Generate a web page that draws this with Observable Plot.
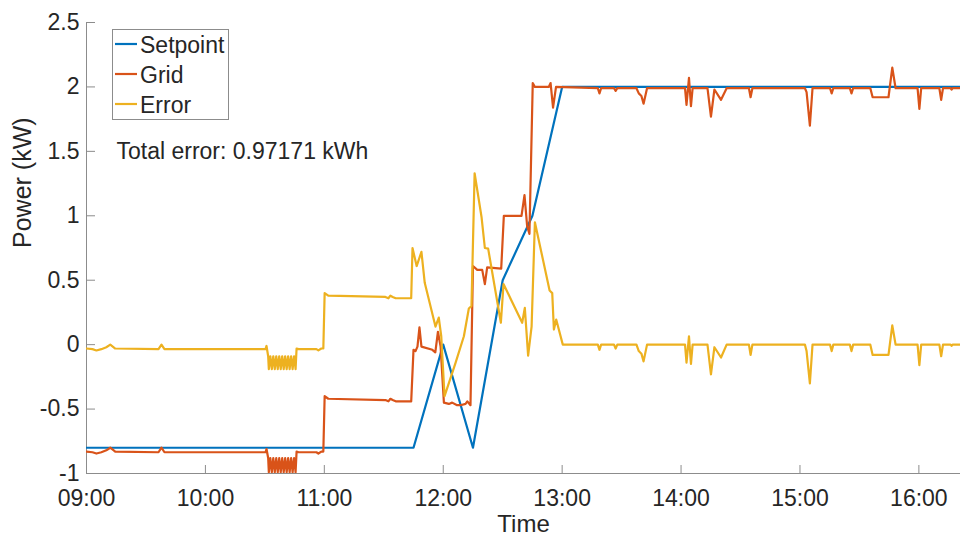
<!DOCTYPE html>
<html>
<head>
<meta charset="utf-8">
<script src="https://cdn.jsdelivr.net/npm/d3@7"></script>
<script src="https://cdn.jsdelivr.net/npm/@observablehq/plot@0.6"></script>
<style>
  body { margin: 0; background: #fff; font-family: "Liberation Sans", Arial, sans-serif; }
  #chart { width: 960px; height: 538px; }
</style>
</head>
<body>
<div id="chart"></div>
<script>
// ---- data ----
const seriesNames = ["Setpoint", "Grid", "Error"];
const seriesColors = ["#0072BD", "#D95319", "#EDB120"];
const totalErrorLabel = "Total error: 0.97171 kWh";

const xTickLabels = ["09:00", "10:00", "11:00", "12:00", "13:00", "14:00", "15:00", "16:00"];
const yTicks = [-1, -0.5, 0, 0.5, 1, 1.5, 2, 2.5];
const xStart = "09:00:00";
const xEnd = "16:21:00";

const setpointTime = ["09:00:00", "11:45:00", "12:00:00", "12:15:00", "12:30:00", "12:45:00", "13:00:00", "16:21:00"];
const setpointValue = [-0.8, -0.8, 0, -0.8, 0.5, 1.0, 2.0, 2.0];

const gridTime = [
  "09:00:00","09:03:00","09:05:00","09:07:30","09:10:00","09:12:00","09:14:30",
  "09:36:20","09:37:50","09:39:20","10:30:20","10:30:50","10:31:40",
  "10:32:00","10:32:45","10:33:30","10:34:15","10:35:00","10:35:45","10:36:30","10:37:15",
  "10:38:00","10:38:45","10:39:30","10:40:15","10:41:00","10:41:45","10:42:30","10:43:15",
  "10:44:00","10:44:45","10:45:30","10:46:00",
  "10:47:00","10:56:00","10:57:00","10:58:30","10:59:30","11:00:10","11:02:00",
  "11:30:50","11:32:20","11:33:20","11:34:30","11:36:00","11:43:50",
  "11:45:00","11:46:00","11:47:00","11:48:00","11:49:00","11:54:30","11:56:00","11:57:20","11:58:40",
  "12:00:20","12:02:50","12:04:30","12:07:00","12:08:45","12:11:15","12:12:10","12:13:45",
  "12:15:00","12:17:10","12:19:40","12:21:00","12:22:10","12:29:15","12:30:35",
  "12:39:30","12:41:00","12:42:20","12:43:30","12:45:10","12:46:15","12:53:15","12:54:10","12:55:25","12:56:55",
  "13:18:00","13:18:50","13:19:40","13:26:10","13:27:00","13:27:50",
  "13:37:30","13:38:40","13:40:00","13:41:05","13:42:50",
  "14:02:00","14:02:45","14:04:00","14:05:00","14:05:50",
  "14:13:20","14:15:05","14:16:50","14:20:10","14:23:00",
  "14:34:15","14:35:05","14:36:00",
  "15:02:30","15:03:20","15:05:00","15:06:20",
  "15:15:10","15:16:00","15:16:50","15:25:10","15:26:00","15:26:50",
  "15:35:30","15:36:40","15:44:40","15:46:35","15:48:15",
  "15:59:20","16:00:15","16:01:10","16:10:20","16:11:15","16:12:10",
  "16:16:00","16:16:30","16:17:00","16:21:00"
];
const gridValue = [
  -0.83,-0.835,-0.845,-0.835,-0.82,-0.80,-0.83,
  -0.835,-0.80,-0.835,-0.835,-0.81,-0.88,
  -0.99,-0.88,-0.99,-0.88,-0.99,-0.88,-0.99,-0.88,
  -0.99,-0.88,-0.99,-0.88,-0.99,-0.88,-0.99,-0.88,
  -0.99,-0.88,-0.99,-0.83,
  -0.835,-0.835,-0.845,-0.83,-0.83,-0.40,-0.42,
  -0.43,-0.44,-0.42,-0.43,-0.44,-0.44,
  -0.04,-0.05,-0.015,0.135,-0.015,-0.04,-0.06,0.10,-0.015,
  -0.45,-0.46,-0.45,-0.47,-0.47,-0.46,-0.44,-0.47,
  0.61,0.58,0.58,0.47,0.60,0.59,1.0,
  1.0,1.16,0.92,0.86,2.03,2.0,2.0,2.03,1.84,2.0,
  1.99,1.95,1.99,1.99,1.97,1.99,
  1.99,1.95,1.93,1.87,1.99,
  1.99,1.86,2.07,1.85,1.99,
  1.99,1.77,1.98,1.90,1.99,
  1.99,1.92,1.99,
  1.99,1.96,1.70,1.99,
  1.99,1.95,1.99,1.99,1.95,1.99,
  1.99,1.92,1.92,2.15,1.99,
  1.99,1.83,1.99,1.99,1.90,1.99,
  1.99,1.98,1.99,1.99
];

const errorTime = [
  "09:00:00","09:03:00","09:05:00","09:07:30","09:10:00","09:12:00","09:14:30",
  "09:36:20","09:37:50","09:39:20","10:30:20","10:30:50","10:31:40",
  "10:32:00","10:32:45","10:33:30","10:34:15","10:35:00","10:35:45","10:36:30","10:37:15",
  "10:38:00","10:38:45","10:39:30","10:40:15","10:41:00","10:41:45","10:42:30","10:43:15",
  "10:44:00","10:44:45","10:45:30","10:46:00",
  "10:47:00","10:56:00","10:57:00","10:58:30","10:59:30","11:00:10","11:02:00",
  "11:30:50","11:32:20","11:33:20","11:34:30","11:36:00","11:43:50",
  "11:44:30","11:46:35","11:49:00","11:50:40","11:56:05","11:57:45","11:59:00",
  "12:00:40","12:06:15","12:10:25","12:12:55","12:14:15","12:15:50","12:19:20","12:21:00","12:22:40",
  "12:29:05","12:30:25","12:39:50","12:41:10","12:42:50","12:44:35","12:46:15",
  "12:53:40","12:55:00","12:55:50","12:57:00","13:00:20",
  "13:18:00","13:18:50","13:19:40","13:26:10","13:27:00","13:27:50",
  "13:37:30","13:38:40","13:40:00","13:41:05","13:42:50",
  "14:02:00","14:02:45","14:04:00","14:05:00","14:05:50",
  "14:13:20","14:15:05","14:16:50","14:20:10","14:23:00",
  "14:34:15","14:35:05","14:36:00",
  "15:02:30","15:03:20","15:05:00","15:06:20",
  "15:15:10","15:16:00","15:16:50","15:25:10","15:26:00","15:26:50",
  "15:35:30","15:36:40","15:44:40","15:46:35","15:48:15",
  "15:59:20","16:00:15","16:01:10","16:10:20","16:11:15","16:12:10",
  "16:16:00","16:16:30","16:17:00","16:21:00"
];
const errorValue = [
  -0.03,-0.035,-0.045,-0.035,-0.02,0.0,-0.03,
  -0.035,0.0,-0.035,-0.035,-0.01,-0.09,
  -0.19,-0.09,-0.19,-0.09,-0.19,-0.09,-0.19,-0.09,
  -0.19,-0.09,-0.19,-0.09,-0.19,-0.09,-0.19,-0.09,
  -0.19,-0.09,-0.19,-0.03,
  -0.035,-0.035,-0.045,-0.03,-0.03,0.40,0.38,
  0.37,0.36,0.38,0.37,0.36,0.36,
  0.75,0.61,0.72,0.48,0.14,0.21,0.065,
  -0.40,-0.14,0.065,0.28,0.30,1.33,0.99,0.75,0.745,
  0.17,0.47,0.17,0.285,-0.085,0.14,0.95,
  0.42,0.40,0.117,0.195,0.0,
  0.0,-0.04,0.0,0.0,-0.03,0.0,
  0.0,-0.05,-0.07,-0.13,0.0,
  0.0,-0.14,0.065,-0.15,0.0,
  0.0,-0.23,-0.02,-0.10,0.0,
  0.0,-0.08,0.0,
  0.0,-0.05,-0.30,0.0,
  0.0,-0.05,0.0,0.0,-0.05,0.0,
  0.0,-0.08,-0.08,0.15,0.0,
  0.0,-0.16,0.0,0.0,-0.09,0.0,
  0.0,-0.01,0.0,0.0
];

// ---- build tables ----
const parseT = d3.utcParse("%H:%M:%S");
const parseTick = d3.utcParse("%H:%M");
const toRows = (times, values) => times.map((t, i) => ({t: parseT(t), v: values[i]}));
const setpointRows = toRows(setpointTime, setpointValue);
const gridRows = toRows(gridTime, gridValue);
const errorRows = toRows(errorTime, errorValue);
const xTicks = xTickLabels.map(parseTick);
const fmt = d3.utcFormat("%H:%M");

const axisColor = "#8c8c8c";
const textColor = "#262626";

const chart = Plot.plot({
  width: 960,
  height: 538,
  marginLeft: 86,
  marginRight: 0,
  marginTop: 22,
  marginBottom: 65,
  style: {fontFamily: "'Liberation Sans', Arial, sans-serif", background: "#fff"},
  x: {type: "utc", domain: [parseT(xStart), parseT(xEnd)]},
  y: {domain: [-1, 2.5]},
  marks: [
    Plot.ruleX([parseT(xStart)], {stroke: axisColor, strokeWidth: 1}),
    Plot.ruleY([-1], {stroke: axisColor, strokeWidth: 1}),
    Plot.axisY(yTicks, {tickSize: -9, tickFormat: () => "", stroke: axisColor, label: null}),
    Plot.axisY(yTicks, {tickSize: 0, tickPadding: 7, tickFormat: d => String(d), fontSize: 23, fill: textColor, label: null}),
    Plot.axisX(xTicks, {tickSize: -8, tickFormat: () => "", stroke: axisColor, label: null}),
    Plot.axisX(xTicks, {tickSize: 0, tickPadding: 16, tickFormat: fmt, fontSize: 23, fill: textColor, label: null}),
    Plot.line(setpointRows, {x: "t", y: "v", stroke: seriesColors[0], strokeWidth: 2.2, clip: true}),
    Plot.line(gridRows, {x: "t", y: "v", stroke: seriesColors[1], strokeWidth: 2.2, clip: true}),
    Plot.line(errorRows, {x: "t", y: "v", stroke: seriesColors[2], strokeWidth: 2.2, clip: true}),
    Plot.text([totalErrorLabel], {frameAnchor: "top-left", dx: 30, dy: 129, lineAnchor: "middle", textAnchor: "start", fontSize: 23, fill: textColor}),
    Plot.text(["Power (kW)"], {frameAnchor: "left", dx: -64, rotate: -90, lineAnchor: "middle", fontSize: 25, fill: textColor}),
    Plot.text(["Time"], {frameAnchor: "bottom", dy: 51, lineAnchor: "middle", fontSize: 24, fill: textColor})
  ]
});

// legend inside the axes (top-left box)
const svg = d3.select(chart);
const lg = svg.append("g").attr("font-family", "'Liberation Sans', Arial, sans-serif").attr("text-anchor", "start");
lg.append("rect").attr("x", 112.5).attr("y", 29.5).attr("width", 116).attr("height", 90)
  .attr("fill", "#fff").attr("stroke", axisColor).attr("stroke-width", 1);
seriesNames.forEach((name, i) => {
  const yy = 44 + i * 30;
  lg.append("line").attr("x1", 115).attr("x2", 137).attr("y1", yy).attr("y2", yy)
    .attr("stroke", seriesColors[i]).attr("stroke-width", 2.2);
  lg.append("text").attr("x", 140).attr("y", yy + 8.5).attr("font-size", 23)
    .attr("text-anchor", "start").attr("fill", textColor).text(name);
});

document.getElementById("chart").appendChild(chart);
</script>
</body>
</html>
